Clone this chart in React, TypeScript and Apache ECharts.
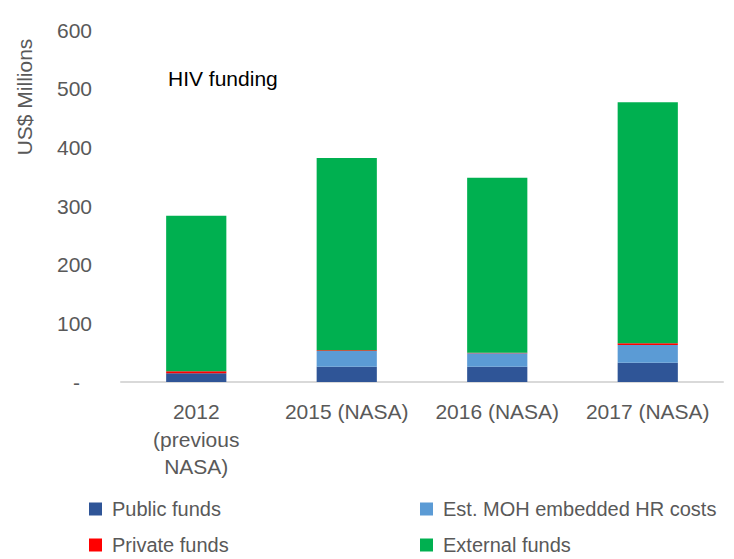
import React, { useEffect, useRef } from "react";
import * as echarts from "echarts";

const categories = ["2012\n(previous\nNASA)", "2015 (NASA)", "2016 (NASA)", "2017 (NASA)"];
const publicFunds = [15, 26, 26, 33];
const hrCosts = [0, 27, 23, 30];
const privateFunds = [3.5, 1, 1, 3];
const externalFunds = [265, 328, 298, 411];
const yTicks = [0, 100, 200, 300, 400, 500, 600];

const FONT = "Liberation Sans";

export default function App() {
  const ref = useRef<HTMLDivElement>(null);
  useEffect(() => {
    document.body.style.margin = "0";
    const chart = echarts.init(ref.current!, null, { renderer: "svg" });
    const mk = (name: string, data: number[], color: string) => ({
      name,
      type: "bar",
      stack: "total",
      barWidth: "40%",
      data,
      itemStyle: { color },
    });
    const legendText = { fontSize: 20, color: "#595959", padding: [0, 0, 0, 5], fontFamily: FONT };
    const lg = (name: string, left: number, top: number) => ({
      left,
      top,
      padding: 0,
      orient: "horizontal",
      itemWidth: 13,
      itemHeight: 13,
      icon: "rect",
      data: [name],
      textStyle: legendText,
    });
    chart.setOption({
      animation: false,
      textStyle: { fontFamily: FONT },
      grid: { left: 121, right: 11, top: 30, bottom: 177, containLabel: false },
      xAxis: {
        type: "category",
        data: categories,
        axisLine: { lineStyle: { color: "#D9D9D9", width: 2 } },
        axisTick: { show: false },
        axisLabel: {
          color: "#595959",
          fontSize: 21,
          lineHeight: 27.5,
          margin: 16,
          interval: 0,
          fontFamily: FONT,
        },
      },
      yAxis: {
        type: "value",
        min: yTicks[0],
        max: yTicks[yTicks.length - 1],
        interval: 100,
        splitLine: { show: false },
        axisLine: { show: false },
        axisTick: { show: false },
        axisLabel: {
          color: "#595959",
          fontSize: 21,
          margin: 29,
          fontFamily: FONT,
          formatter: (v: number) => (v === 0 ? "{d|-}" : String(v)),
          rich: { d: { fontSize: 21, color: "#595959", padding: [0, 12, 0, 0], fontFamily: FONT } },
        },
      },
      legend: [
        lg("Public funds", 89, 499),
        lg("Est. MOH embedded HR costs", 420, 499),
        lg("Private funds", 89, 535),
        lg("External funds", 420, 535),
      ],
      graphic: [
        {
          type: "text",
          left: 168,
          top: 68,
          style: { text: "HIV funding", fontSize: 21, fill: "#000000", fontFamily: FONT },
        },
        {
          type: "text",
          x: 24,
          y: 97,
          rotation: Math.PI / 2,
          style: {
            text: "US$ Millions",
            fontSize: 21,
            fill: "#595959",
            align: "center",
            verticalAlign: "middle",
            fontFamily: FONT,
          },
        },
      ],
      series: [
        mk("Public funds", publicFunds, "#2F5597"),
        mk("Est. MOH embedded HR costs", hrCosts, "#5B9BD5"),
        mk("Private funds", privateFunds, "#FF0000"),
        mk("External funds", externalFunds, "#00B050"),
      ],
    });
    return () => chart.dispose();
  }, []);
  return <div ref={ref} style={{ width: 734, height: 559 }} />;
}
